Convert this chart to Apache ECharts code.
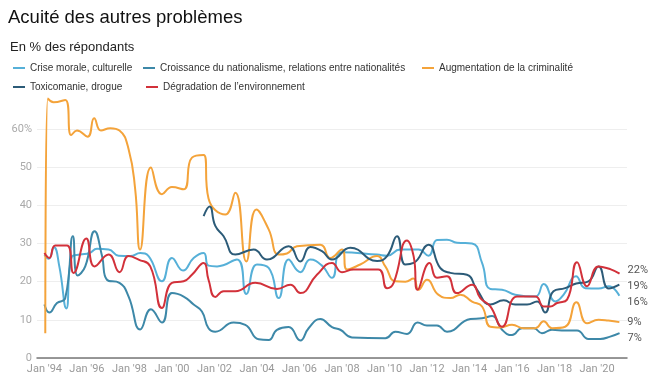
<!DOCTYPE html>
<html><head><meta charset="utf-8">
<script src="https://cdn.jsdelivr.net/npm/echarts@6/dist/echarts.min.js"></script>
<style>html,body{margin:0;padding:0;background:#fff}#c{width:661px;height:391px}</style>
</head><body><div id="c"></div>
<script>
const seriesNames = ['Crise morale, culturelle','Croissance du nationalisme, relations entre nationalités','Augmentation de la criminalité','Toxicomanie, drogue','Dégradation de l\u2019environnement'];
const xTickValues = [1994,1996,1998,2000,2002,2004,2006,2008,2010,2012,2014,2016,2018,2020];
const xTickLabels = ["Jan '94","Jan '96","Jan '98","Jan '00","Jan '02","Jan '04","Jan '06","Jan '08","Jan '10","Jan '12","Jan '14","Jan '16","Jan '18","Jan '20"];
const yTickLabels = ['0','10','20','30','40','50','60%'];

// [decimal year, %]
const criseMorale = [[1994.0,27],[1994.2,26],[1994.45,29],[1994.7,24],[1995.03,13],[1995.29,26.5],[1995.68,27.1],[1996.12,27.5],[1996.47,28.6],[1997.02,28.4],[1997.49,26.8],[1998.04,26.7],[1998.51,27.5],[1998.9,26.7],[1999.53,20.1],[2000.0,26.2],[2000.52,22.9],[2001.02,26.2],[2001.49,27.5],[2001.72,24.2],[2002.12,24],[2003.06,25.8],[2003.5,16.8],[2004.0,24.5],[2004.55,23.6],[2005.02,15.7],[2005.49,25.8],[2006.04,22.5],[2006.51,25.8],[2007.06,24.2],[2007.53,21],[2008.0,27.7],[2009.65,27.1],[2010.12,26.8],[2010.74,28.4],[2011.6,28.4],[2012.07,26.8],[2012.47,30.9],[2012.94,31],[2013.41,30.2],[2014.12,30],[2014.59,24.9],[2014.98,18.1],[2015.53,17.9],[2016.15,16.6],[2017.1,16.1],[2017.49,19.4],[2018.04,14.8],[2018.43,16.6],[2019.01,21.4],[2019.45,18.3],[2020.07,18.2],[2020.55,18.8],[2021.05,16.3]];
const nationalisme = [[1994.0,14],[1994.23,11.9],[1994.59,14.4],[1994.98,15.7],[1995.34,31.9],[1995.56,21.6],[1995.92,24],[1996.36,33.2],[1996.71,26.7],[1996.94,20.5],[1997.53,19.7],[1997.96,16.1],[1998.51,7.5],[1999.01,12.8],[1999.53,9.3],[2000.0,17],[2000.55,16.1],[2001.02,14],[2001.41,12.2],[2001.72,7.8],[2002.04,6.9],[2002.9,9.3],[2003.45,8.7],[2004.08,4.9],[2004.55,4.7],[2004.94,7.4],[2005.49,8.1],[2006.04,4.6],[2006.43,7.8],[2006.98,10.2],[2007.53,8.1],[2007.92,7.4],[2008.47,5.4],[2010.04,5.2],[2010.51,6.9],[2011.06,6.3],[2011.56,9.3],[2012.0,8.5],[2012.47,8.5],[2012.94,6.9],[2014.04,10.2],[2014.59,10.4],[2015.06,11],[2015.53,7.4],[2016.0,6],[2016.47,7.8],[2017.02,7.8],[2017.41,6.5],[2017.88,7.4],[2018.5,7.2],[2019.06,7.2],[2019.6,5],[2020.15,5],[2020.62,5.6],[2021.06,6.5]];
const criminalite = [[1994.04,6.5],[1994.16,68],[1994.43,67],[1994.98,67.6],[1995.26,58.4],[1995.53,59.6],[1996.03,58],[1996.34,62.8],[1996.66,59.6],[1997.1,60.2],[1997.53,59.6],[1997.96,54.7],[1998.27,44.2],[1998.5,28.4],[1999.01,49.9],[1999.53,42.9],[2000.0,44.8],[2000.55,44.2],[2000.94,52.5],[2001.49,53.2],[2001.72,41.8],[2002.51,37.6],[2002.98,43.3],[2003.5,25.3],[2003.97,38.9],[2004.55,33.7],[2005.02,27.1],[2005.41,27.4],[2005.88,29.3],[2006.98,29.7],[2007.45,26.2],[2008.0,28.4],[2008.24,23.2],[2008.86,24.5],[2009.65,26.7],[2010.04,24],[2010.51,20.1],[2010.98,20],[2011.36,20.8],[2011.6,17.9],[2012.0,20.5],[2012.53,16.6],[2013.1,15.7],[2013.57,16.6],[2014.12,14.8],[2014.59,13.5],[2014.98,8.2],[2015.45,8],[2016.0,8.7],[2016.55,7.8],[2017.1,7.8],[2017.49,9.6],[2017.88,7.8],[2018.5,8.2],[2019.03,14.6],[2019.53,9.1],[2020.07,10],[2020.53,9.8],[2021.05,9.4]];
const toxicomanie = [[2001.49,37.2],[2001.77,39.7],[2002.04,34.6],[2002.43,31.9],[2002.98,27.1],[2003.84,28.4],[2004.47,25.8],[2005.49,29.3],[2006.04,25.3],[2006.51,29.1],[2007.06,28],[2007.53,25.8],[2008.39,28.9],[2009.65,25.4],[2010.12,26.7],[2010.59,31.9],[2010.98,24.5],[2011.37,24.9],[2012.07,29.7],[2012.62,23.6],[2013.1,22.3],[2013.88,21.8],[2014.35,17.9],[2014.98,14],[2015.61,15.1],[2016.15,14],[2016.71,14],[2017.18,14.8],[2017.56,11.9],[2017.95,17.5],[2018.5,18.3],[2019.02,19.5],[2019.6,20.1],[2020.07,24],[2020.55,18.2],[2021.05,19.2]];
const environnement = [[1994.0,27.5],[1994.23,26.2],[1994.51,29.5],[1995.06,29.5],[1995.37,22.3],[1995.97,31.3],[1996.36,24],[1997.02,27.1],[1997.53,22.5],[1997.96,26.7],[1998.43,25.8],[1998.98,24],[1999.53,13.1],[2000.0,19.7],[2000.55,20.1],[2000.94,21.8],[2001.49,24.9],[2001.72,20.5],[2002.04,16],[2002.43,17.5],[2002.98,17.5],[2003.92,19.7],[2004.94,18.1],[2005.57,19.2],[2006.04,17],[2006.82,21.8],[2007.53,24.9],[2008.0,22.5],[2008.55,23.2],[2009.71,23.2],[2010.12,18.3],[2010.43,19.7],[2011.06,30.8],[2011.37,26.7],[2011.56,17.9],[2012.12,24.9],[2012.47,21],[2012.94,21.4],[2013.41,17],[2014.12,19.2],[2014.51,15.7],[2014.98,13.5],[2015.53,8.2],[2016.24,16.1],[2017.1,16.1],[2017.49,13.5],[2017.8,13.5],[2018.12,14.4],[2018.59,15.3],[2019.06,25.1],[2019.53,18.8],[2020.07,24],[2020.62,23.3],[2021.06,22.1]];

const colors = ['#56b0d8','#3d88a8','#f4a33a','#2c5b78','#d2313a'];
const dataList = [criseMorale, nationalisme, criminalite, toxicomanie, environnement];
const endOffsets = [[2,6],[2,5],[2,0],[2,2],[2,-3]];
const FONT = '"Liberation Sans",Arial,sans-serif';
const legendPos = [[13,63],[143,63],[422,63],[13,82],[146,82]];

const chart = echarts.init(document.getElementById('c'), null, {renderer:'canvas'});
chart.setOption({
  animation:false,
  title:[
    {text:'Acuité des autres problèmes', left:8, top:8, padding:0, textStyle:{fontSize:18.5, fontWeight:'normal', color:'#111', fontFamily:FONT}},
    {text:'En % des répondants', left:10, top:41, padding:0, textStyle:{fontSize:13, fontWeight:'normal', color:'#222', fontFamily:FONT}}
  ],
  legend: seriesNames.map((n,i)=>({data:[n], left:legendPos[i][0], top:legendPos[i][1], icon:'rect', itemWidth:12, itemHeight:2, itemGap:0, selectedMode:false, padding:0, textStyle:{fontSize:10, color:'#333', fontFamily:FONT}})),
  grid:{left:37, right:34, top:129, bottom:33, containLabel:false},
  xAxis:{type:'value', min:1993.65, max:2021.41,
    axisLine:{lineStyle:{color:'#777', width:1.5}},
    axisTick:{show:false},
    splitLine:{show:false},
    axisLabel:{customValues:xTickValues, formatter:v=>xTickLabels[xTickValues.indexOf(Math.round(v))]||'', color:'#999', fontSize:11, margin:6, fontFamily:'Roboto, sans-serif'}
  },
  yAxis:{type:'value', min:0, max:60, interval:10,
    axisLine:{show:false}, axisTick:{show:false},
    splitLine:{lineStyle:{color:'#eeeeee', width:1}},
    axisLabel:{formatter:(v,i)=>yTickLabels[i], color:'#aaa', fontSize:11, margin:5, fontFamily:'Roboto, sans-serif'}
  },
  series: seriesNames.map((n,i)=>({
    name:n, type:'line', data:dataList[i], smooth:0.5, symbol:'none', clip:false,
    lineStyle:{width:2, color:colors[i]}, itemStyle:{color:colors[i]},
    endLabel:{show:true, formatter:p=>Math.round(p.value[1])+'%', offset:endOffsets[i], color:'#555', fontSize:11, fontFamily:'Roboto, sans-serif', distance:6}
  }))
});
</script></body></html>
